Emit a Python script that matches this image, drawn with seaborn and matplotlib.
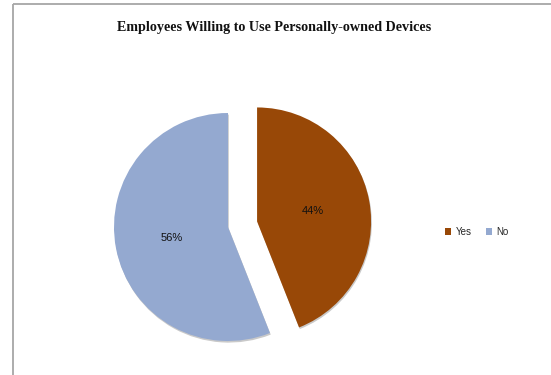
import matplotlib
matplotlib.use("Agg")
import matplotlib.pyplot as plt
from matplotlib.patches import Patch
import seaborn as sns

# Survey responses
categories = ["Yes", "No"]
shares = [44, 56]
slice_colors = ["#984807", "#94A9D0"]
title_text = "Employees Willing to Use Personally-owned Devices"

sns.set_theme(style="white")
plt.rcParams["font.family"] = ["Liberation Sans", "DejaVu Sans"]

W, H = 551, 375
fig = plt.figure(figsize=(W / 100, H / 100), dpi=100)
ax = fig.add_axes([0, 0, 1, 1])

cx, cy, r = 228, H - 227, 114
# pie explode offsets are in data units (pixels here)
explode = [29.6, 0.0]

# soft drop shadow under the slices
ax.pie(shares, radius=r, center=(cx + 0.8, cy - 1.6), explode=explode,
       startangle=90, counterclock=False, colors=["#c9c9c9", "#c9c9c9"],
       wedgeprops=dict(linewidth=0), frame=True)

wedges, texts, autotexts = ax.pie(
    shares, radius=r, center=(cx, cy), explode=explode,
    startangle=90, counterclock=False, colors=slice_colors,
    autopct=lambda p: f"{p:.0f}%", pctdistance=0.5,
    wedgeprops=dict(linewidth=0),
    textprops=dict(fontsize=8, color="#111111"), frame=True)

ax.set_xlim(0, W)
ax.set_ylim(0, H)
ax.set_aspect("equal")
ax.axis("off")

# chart border (left and top edges)
ax.plot([12.5, 12.5], [0, H - 3.5], color="#a6a6a6", lw=1.3, solid_capstyle="butt")
ax.plot([12.5, W], [H - 3.5, H - 3.5], color="#a6a6a6", lw=1.3, solid_capstyle="butt")

ax.text(274, H - 28, title_text, ha="center", va="center",
        fontsize=10.2, fontweight="bold", family=["Liberation Serif", "DejaVu Serif"],
        color="#111111")

handles = [Patch(facecolor=c, edgecolor="none", label=l)
           for c, l in zip(slice_colors, categories)]
ax.legend(handles=handles, ncol=2, loc="center", bbox_to_anchor=(477, H - 232),
          bbox_transform=ax.transData, frameon=False, fontsize=7,
          handlelength=0.6, handleheight=0.6, handletextpad=0.5,
          columnspacing=1.4, borderpad=0)

fig.savefig("out.png", dpi=100, facecolor="white")
